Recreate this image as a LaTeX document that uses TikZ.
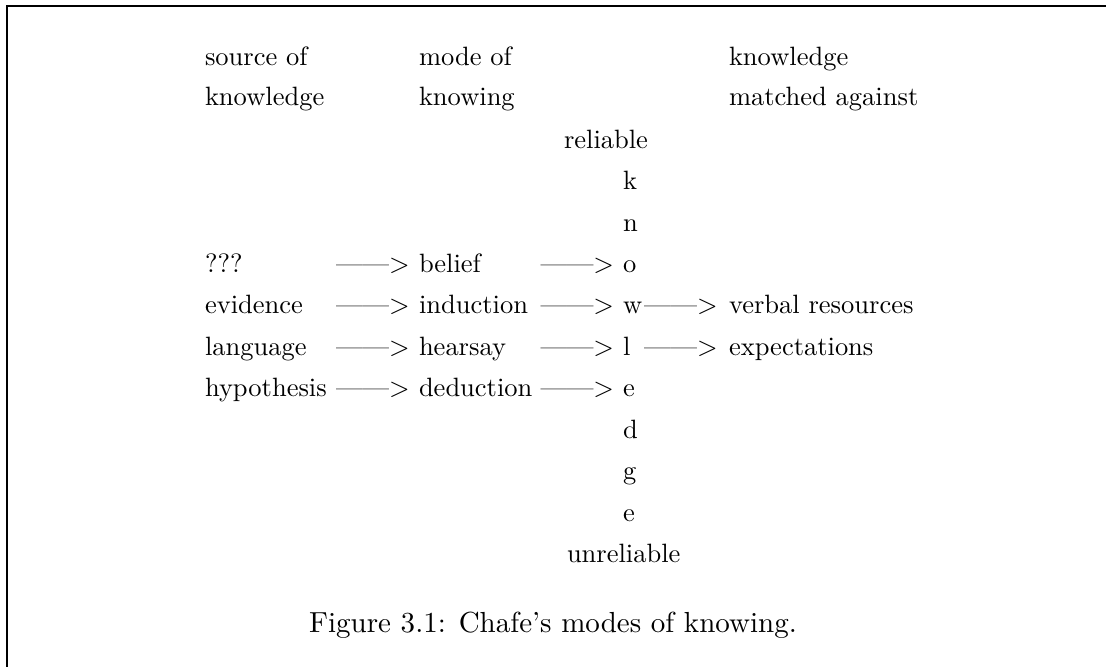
\documentclass[tikz,border=0pt]{standalone}
\usepackage{tikz}
\begin{document}
\begin{tikzpicture}[x=0.37736pt,y=-0.37736pt,
  lbl/.style={anchor=base west,inner sep=0pt,outer sep=0pt,font=\fontsize{10}{12}\selectfont},
  arr/.style={lbl},
  captext/.style={anchor=base,inner sep=0pt,outer sep=0pt,font=\fontsize{10.95}{13.6}\selectfont},
  frameline/.style={line width=0.755pt,line cap=rect}]
\useasboundingbox (0,0) rectangle (1106,666);
% frame (only top and left visible)
\coordinate (fTL) at (7,6);
\coordinate (fTR) at (1110,6);
\coordinate (fBL) at (7,670);
\draw[frameline] (fBL) -- (fTL) -- (fTR);
% headers
\node[lbl] (h1a) at (205,65) {source of};
\node[lbl] (h1b) at (205,105) {knowledge};
\node[lbl] (h2a) at (419,65) {mode of};
\node[lbl] (h2b) at (419,105) {knowing};
\node[lbl] (h3a) at (729,65) {knowledge};
\node[lbl] (h3b) at (729,105) {matched against};
% vertical column
\node[lbl] (rel) at (564,148) {reliable};
\node[lbl] (k1) at (623,189.5) {k};
\node[lbl] (k2) at (623,231) {n};
\node[lbl] (k3) at (623,272) {o};
\node[lbl] (k4) at (623,313.5) {w};
\node[lbl] (k5) at (623,355) {l};
\node[lbl] (k6) at (623,396.5) {e};
\node[lbl] (k7) at (623,438) {d};
\node[lbl] (k8) at (623,479.5) {g};
\node[lbl] (k9) at (623,521) {e};
\node[lbl] (unrel) at (567,562) {unreliable};
% sources
\node[lbl] (s1) at (205,272) {???};
\node[lbl] (s2) at (205,313.5) {evidence};
\node[lbl] (s3) at (205,355) {language};
\node[lbl] (s4) at (205,396.5) {hypothesis};
% arrows 1
\node[arr] (a11) at (336,272) {\textemdash\textemdash>};
\node[arr] (a12) at (336,313.5) {\textemdash\textemdash>};
\node[arr] (a13) at (336,355) {\textemdash\textemdash>};
\node[arr] (a14) at (336,396.5) {\textemdash\textemdash>};
% modes
\node[lbl] (m1) at (419,272) {belief};
\node[lbl] (m2) at (419,313.5) {induction};
\node[lbl] (m3) at (419,355) {hearsay};
\node[lbl] (m4) at (419,396.5) {deduction};
% arrows 2
\node[arr] (a21) at (540.5,272) {\textemdash\textemdash>};
\node[arr] (a22) at (540.5,313.5) {\textemdash\textemdash>};
\node[arr] (a23) at (540.5,355) {\textemdash\textemdash>};
\node[arr] (a24) at (540.5,396.5) {\textemdash\textemdash>};
% arrows 3
\node[arr] (a31) at (644,313.5) {\textemdash\textemdash>};
\node[arr] (a32) at (644,355) {\textemdash\textemdash>};
% matched against
\node[lbl] (t1) at (729,313.5) {verbal resources};
\node[lbl] (t2) at (729,355) {expectations};
% caption
\node[captext] (caption) at (553,632) {Figure 3.1: Chafe's modes of knowing.};
\end{tikzpicture}
\end{document}
